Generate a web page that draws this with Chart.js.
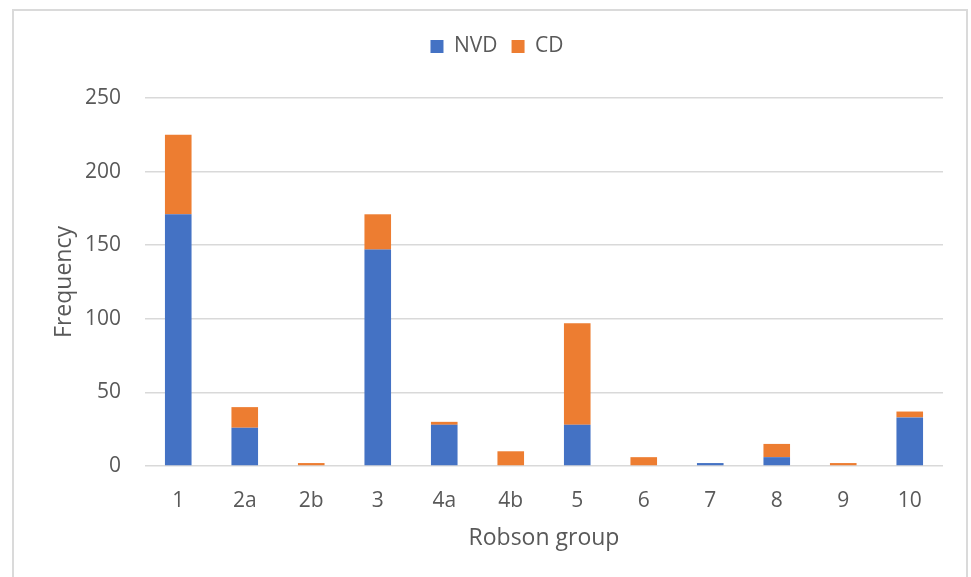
<!DOCTYPE html>
<html>
<head>
<meta charset="utf-8">
<script src="https://cdn.jsdelivr.net/npm/chart.js@4/dist/chart.umd.min.js"></script>
<style>
  html, body { margin: 0; padding: 0; background: #ffffff; overflow: hidden; }
  #wrap { position: relative; width: 971px; height: 577px; }
  #frame {
    position: absolute; left: 12px; top: 9px; width: 956px; height: 600px;
    border: 2px solid #dadada; box-sizing: border-box; pointer-events: none;
  }
  canvas { position: absolute; left: 0; top: 0; }
</style>
</head>
<body>
<div id="wrap">
  <div id="frame"></div>
  <canvas id="c" width="971" height="577"></canvas>
</div>
<script>
// Robson group frequencies split by mode of delivery
const groups = ['1', '2a', '2b', '3', '4a', '4b', '5', '6', '7', '8', '9', '10'];
const nvdCounts = [171, 26, 0, 147, 28, 0, 28, 0, 2, 6, 0, 33];
const cdCounts = [54, 14, 2, 24, 2, 10, 69, 6, 0, 9, 2, 4];
const yTicks = [0, 50, 100, 150, 200, 250];

const textColor = '#595959';
const fontFamily = '"Open Sans", "Liberation Sans", sans-serif';

// Give the legend a fixed height so the plot starts at the same place every time
const legendHeight = {
  id: 'legendHeight',
  beforeInit(chart) {
    const origFit = chart.legend.fit;
    chart.legend.fit = function () {
      origFit.call(this);
      this.height = 76;
    };
  }
};

new Chart(document.getElementById('c'), {
  type: 'bar',
  data: {
    labels: groups,
    datasets: [
      { label: 'NVD', data: nvdCounts, backgroundColor: '#4472C4', borderWidth: 0 },
      { label: 'CD', data: cdCounts, backgroundColor: '#ED7D31', borderWidth: 0 }
    ]
  },
  plugins: [legendHeight],
  options: {
    responsive: false,
    animation: false,
    devicePixelRatio: 1,
    layout: { padding: { left: 51, right: 28, top: 22, bottom: 0 } },
    datasets: { bar: { categoryPercentage: 1.0, barPercentage: 0.4 } },
    plugins: {
      legend: {
        position: 'top',
        align: 'center',
        labels: {
          boxWidth: 13,
          boxHeight: 13,
          padding: 14,
          color: textColor,
          font: { family: fontFamily, size: 21 }
        }
      },
      tooltip: { enabled: false }
    },
    scales: {
      x: {
        stacked: true,
        grid: { display: false, drawTicks: false },
        border: { display: false },
        ticks: { color: textColor, padding: 22, font: { family: fontFamily, size: 21 } },
        title: {
          display: true,
          text: 'Robson group',
          color: textColor,
          padding: { top: 0, bottom: 25 },
          font: { family: fontFamily, size: 23 }
        },
        afterFit(scale) { scale.height = 111; }
      },
      y: {
        stacked: true,
        min: 0,
        max: 250,
        afterBuildTicks(scale) { scale.ticks = yTicks.map(v => ({ value: v })); },
        grid: { color: '#d9d9d9', lineWidth: 1.5, drawTicks: false },
        border: { display: false },
        ticks: { color: textColor, padding: 24, font: { family: fontFamily, size: 21 } },
        title: {
          display: true,
          text: 'Frequency',
          color: textColor,
          padding: { top: 0, bottom: 0 },
          font: { family: fontFamily, size: 23 }
        },
        afterFit(scale) { scale.width = 94; }
      }
    }
  }
});
</script>
</body>
</html>
